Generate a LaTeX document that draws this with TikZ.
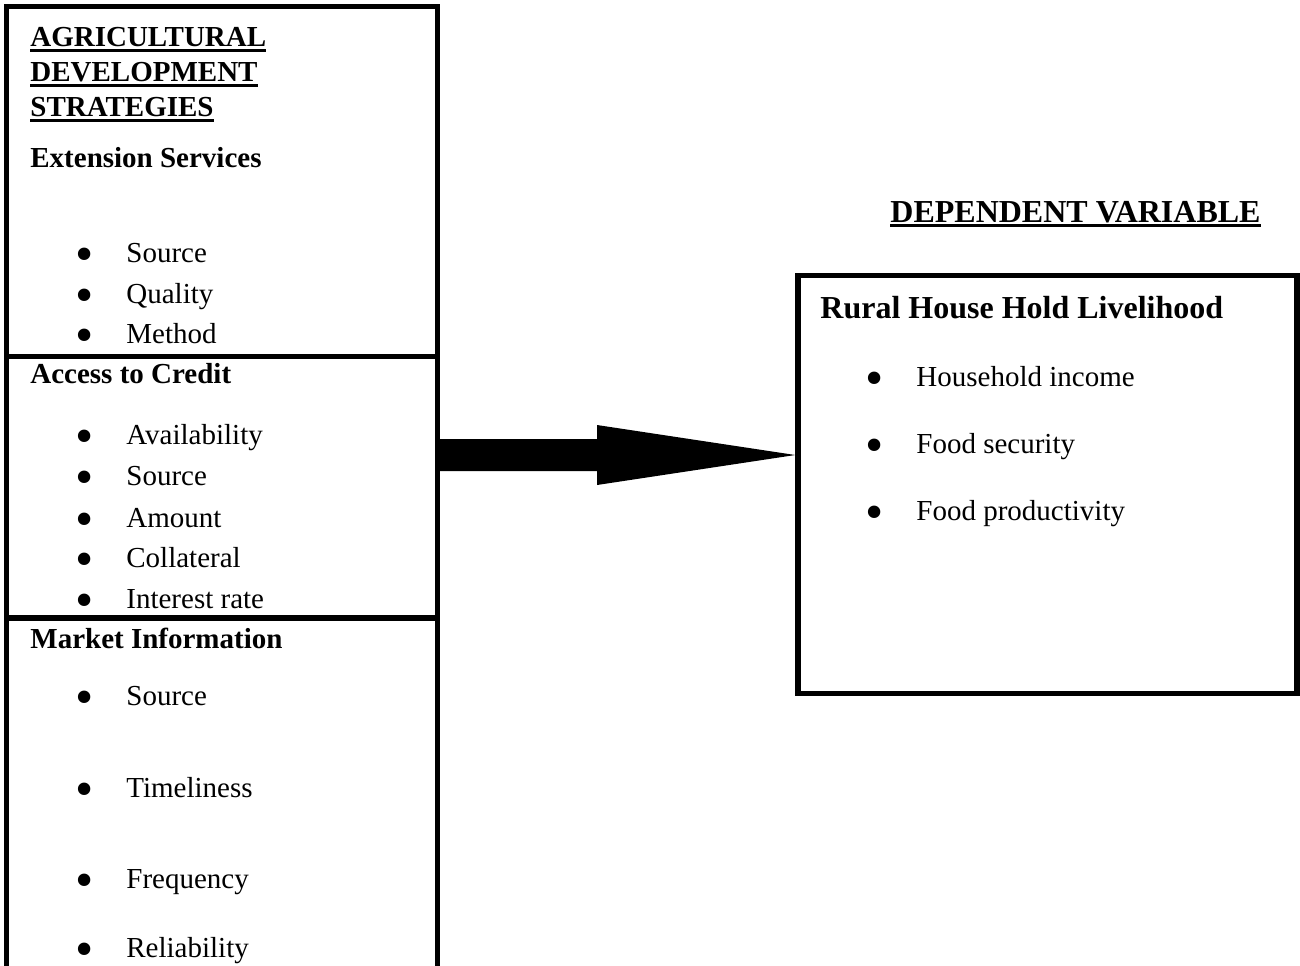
\documentclass[tikz,border=0pt]{standalone}
\usepackage{fontspec}
\setmainfont{Liberation Serif}
\usetikzlibrary{calc,positioning}

% thick underline for the headings
\newcommand\thickul[1]{\setbox0\hbox{#1}\rlap{\rule[-2.5pt]{\wd0}{1.5pt}}\box0}

\tikzset{
  frame/.style={draw, line width=2.75pt},
  heading/.style={anchor=base west, inner sep=0pt, font=\fontsize{14.5}{17.5}\selectfont\bfseries},
  bigheading/.style={anchor=base west, inner sep=0pt, font=\fontsize{16}{19}\selectfont\bfseries},
  entry/.style={anchor=base west, inner sep=0pt, font=\fontsize{14.5}{17.5}\selectfont},
  dot/.style={anchor=base, inner sep=0pt, yshift=-4.5pt, font=\fontsize{26}{30}\selectfont}
}

\begin{document}
\begin{tikzpicture}[x=0.5pt,y=-0.5pt]
\clip (0,0) rectangle (1300,965);

\def\strategyTitle{AGRICULTURAL/46.5,DEVELOPMENT/81.7,STRATEGIES/116.7}
\def\extensionItems{Source/262,Quality/303,Method/343}
\def\creditItems{Availability/444,Source/485,Amount/527,Collateral/567,Interest rate/608}
\def\marketItems{Source/705,Timeliness/797,Frequency/888,Reliability/957}
\def\livelihoodItems{Household income/386,Food security/453,Food productivity/520}

% left panel and its dividers
\draw[frame] (6.7,6.5) rectangle (437.5,1010);
\draw[frame] (6.7,356.5) -- (437.5,356.5);
\draw[frame] (6.7,618) -- (437.5,618);

% right box
\node[frame, outer sep=0pt, inner sep=0pt, anchor=north west,
      minimum width=249.5pt, minimum height=209pt] (livelihood) at (798,275.5) {};

% headings of the left panel
\foreach \txt/\ypos [count=\i] in \strategyTitle
  \node[heading] (strategy\i) at (30,\ypos) {\thickul{\txt}};
\node[heading] (extension) at (30,167) {Extension Services};
\node[heading] (credit) at (30,383) {Access to Credit};
\node[heading] (market) at (30,648) {Market Information};

% the bullet lists
\foreach \txt/\ypos [count=\i] in \extensionItems
{
  \node[dot] (extdot\i) at (85,\ypos) {•};
  \node[entry] (ext\i) at (126,\ypos) {\txt};
}
\foreach \txt/\ypos [count=\i] in \creditItems
{
  \node[dot] (credot\i) at (85,\ypos) {•};
  \node[entry] (cre\i) at (126,\ypos) {\txt};
}
\foreach \txt/\ypos [count=\i] in \marketItems
{
  \node[dot] (mardot\i) at (85,\ypos) {•};
  \node[entry] (mar\i) at (126,\ypos) {\txt};
}

% right side
\node[bigheading] (dependent) at (890,222) {\thickul{DEPENDENT VARIABLE}};
\node[bigheading] (rural) at (820,318) {Rural House Hold Livelihood};
\foreach \txt/\ypos [count=\i] in \livelihoodItems
{
  \node[dot] (livdot\i) at (875,\ypos) {•};
  \node[entry] (liv\i) at (916,\ypos) {\txt};
}

% block arrow
\coordinate (tail) at (437.5,455);
\coordinate (headbase) at (597,455);
\coordinate (tip) at ($(livelihood.west |- tail)+(-2.75,0)$);
\fill ($(tail)+(0,-16)$) -- ($(headbase)+(0,-16)$) -- ($(headbase)+(0,-30)$) -- (tip)
  -- ($(headbase)+(0,30)$) -- ($(headbase)+(0,16)$) -- ($(tail)+(0,16)$) -- cycle;

\end{tikzpicture}
\end{document}
